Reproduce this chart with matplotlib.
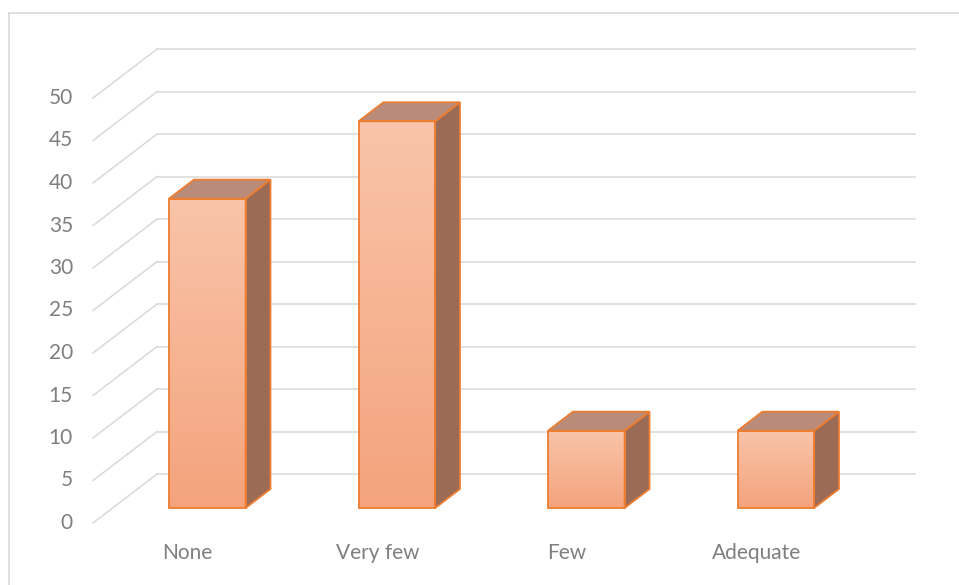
import numpy as np
import matplotlib.pyplot as plt
from matplotlib.patches import Polygon
from matplotlib.lines import Line2D
from matplotlib.colors import LinearSegmentedColormap

categories = ["None", "Very few", "Few", "Adequate"]
values = [36.4, 45.5, 9.1, 9.1]
yticks = [0, 5, 10, 15, 20, 25, 30, 35, 40, 45, 50]

# oblique projection: depth 1 moves (dx, dy) in data units
dx = 0.338
dy = 5.76
f0, f1 = 0.306, 0.694   # bar occupies the middle of the depth
bw = 0.404

grid_col = "#d9d9d9"
edge_col = "#ed7d31"
side_col = "#9c6b55"
top_col = "#b98b79"
text_col = "#7f7f7f"

plt.rcParams['font.family'] = ['Lato', 'DejaVu Sans']

fig = plt.figure(figsize=(9.59, 5.85), dpi=100)
ax = fig.add_axes([0, 0, 1, 1])
# pixel mapping: x 0..4 -> 93..851 px, value 0..50 -> 523..98 px
ax.set_xlim(-93 / 189.5, (959 - 93) / 189.5)
ax.set_ylim((523 - 585) / 8.5, 523 / 8.5)
ax.axis('off')

# outer chart border
fig.add_artist(Line2D([9 / 959, 9 / 959], [0, 1 - 13 / 585], color=grid_col, lw=1.2))
fig.add_artist(Line2D([9 / 959, 1], [1 - 13 / 585, 1 - 13 / 585], color=grid_col, lw=1.2))

n = len(categories)
for v in yticks:
    ax.plot([0, dx], [v, v + dy], color=grid_col, lw=1.1, zorder=1)
    ax.plot([dx, n + dx], [v + dy, v + dy], color=grid_col, lw=1.1, zorder=1)
    ax.text(-0.106, v, str(v), ha='right', va='center', fontsize=15, color=text_col)

cmap = LinearSegmentedColormap.from_list("face", ["#f4a37d", "#f9c4a9"])
grad = np.linspace(0, 1, 256).reshape(-1, 1)

for i, (cat, v) in enumerate(zip(categories, values)):
    xl = i + 0.5 - bw / 2 + f0 * dx
    xr = xl + bw
    yb = f0 * dy
    yt = v + f0 * dy
    ddx = (f1 - f0) * dx
    ddy = (f1 - f0) * dy
    front = Polygon([(xl, yb), (xr, yb), (xr, yt), (xl, yt)], closed=True,
                    facecolor='none', edgecolor=edge_col, lw=1.3, zorder=4)
    im = ax.imshow(grad, cmap=cmap, extent=(xl, xr, yb, yt), origin='lower',
                   aspect='auto', zorder=3)
    ax.add_patch(front)
    im.set_clip_path(front)
    side = Polygon([(xr, yb), (xr + ddx, yb + ddy), (xr + ddx, yt + ddy), (xr, yt)],
                   closed=True, facecolor=side_col, edgecolor=edge_col, lw=1.3, zorder=3)
    top = Polygon([(xl, yt), (xr, yt), (xr + ddx, yt + ddy), (xl + ddx, yt + ddy)],
                  closed=True, facecolor=top_col, edgecolor=edge_col, lw=1.3, zorder=3)
    ax.add_patch(side)
    ax.add_patch(top)
    ax.text(i + 0.5, -3.55, cat, ha='center', va='center', fontsize=15, color=text_col)

fig.savefig("out.png", dpi=100)
